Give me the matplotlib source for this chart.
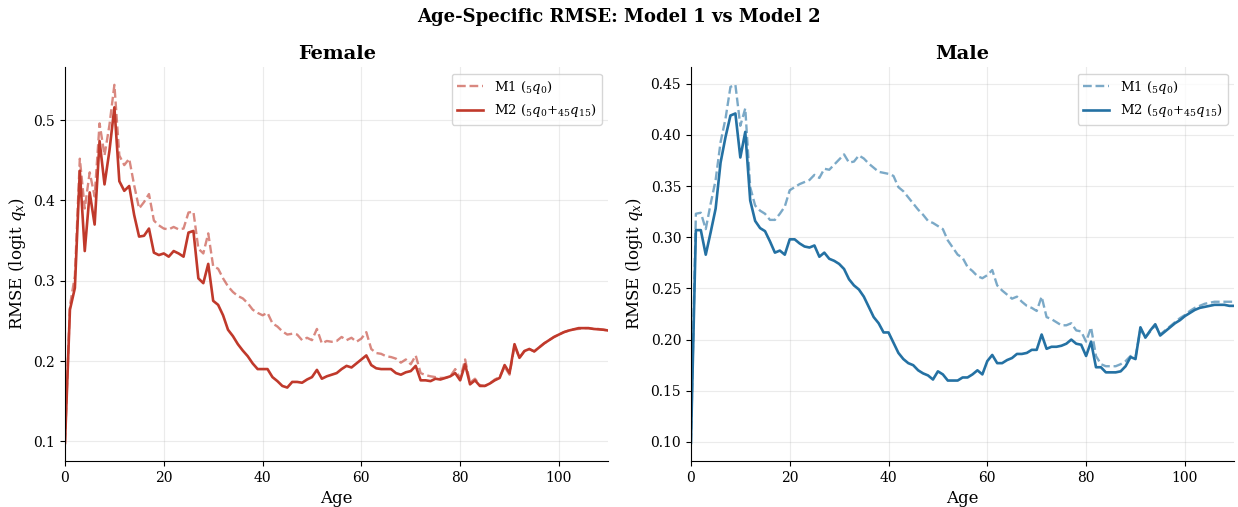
import matplotlib.pyplot as plt
import numpy as np

plt.rcParams['font.family'] = ['DejaVu Serif']
plt.rcParams['mathtext.fontset'] = 'dejavuserif'

ages = np.arange(0, 111)

female_m1 = [0.100, 0.269, 0.306, 0.452, 0.390, 0.435, 0.405, 0.496, 0.456, 0.494,
             0.544, 0.456, 0.444, 0.452, 0.419, 0.390, 0.398, 0.408, 0.375, 0.369,
             0.365, 0.364, 0.367, 0.364, 0.365, 0.385, 0.386, 0.340, 0.334, 0.359,
             0.318, 0.315, 0.303, 0.293, 0.286, 0.281, 0.278, 0.272, 0.264, 0.260,
             0.257, 0.260, 0.247, 0.243, 0.237, 0.233, 0.234, 0.233, 0.226, 0.229,
             0.226, 0.240, 0.222, 0.225, 0.224, 0.225, 0.230, 0.226, 0.229, 0.224,
             0.228, 0.236, 0.215, 0.210, 0.209, 0.206, 0.205, 0.203, 0.198, 0.202,
             0.196, 0.207, 0.185, 0.1825, 0.181, 0.180, 0.179, 0.179, 0.181, 0.190,
             0.178, 0.202, 0.173, 0.178, 0.170, 0.169, 0.172, 0.177, 0.180, 0.193,
             0.183, 0.219, 0.204, 0.212, 0.215, 0.212, 0.217, 0.222, 0.226, 0.230,
             0.233, 0.236, 0.238, 0.2395, 0.240, 0.241, 0.241, 0.240, 0.240, 0.239,
             0.238]
female_m2 = [0.098, 0.264, 0.291, 0.437, 0.337, 0.410, 0.370, 0.474, 0.420, 0.462,
             0.516, 0.424, 0.412, 0.418, 0.382, 0.355, 0.356, 0.365, 0.335, 0.332,
             0.334, 0.330, 0.337, 0.334, 0.330, 0.360, 0.362, 0.303, 0.297, 0.321,
             0.275, 0.270, 0.257, 0.239, 0.231, 0.221, 0.213, 0.206, 0.197, 0.190,
             0.190, 0.190, 0.180, 0.175, 0.169, 0.167, 0.174, 0.174, 0.173, 0.177,
             0.180, 0.189, 0.178, 0.181, 0.183, 0.185, 0.190, 0.194, 0.192, 0.197,
             0.202, 0.207, 0.195, 0.191, 0.190, 0.190, 0.190, 0.185, 0.183, 0.186,
             0.1875, 0.194, 0.176, 0.176, 0.175, 0.178, 0.177, 0.179, 0.181, 0.185,
             0.176, 0.196, 0.171, 0.176, 0.169, 0.169, 0.172, 0.176, 0.179, 0.195,
             0.185, 0.221, 0.204, 0.2125, 0.215, 0.212, 0.217, 0.222, 0.226, 0.230,
             0.233, 0.236, 0.238, 0.2395, 0.241, 0.241, 0.241, 0.240, 0.2395, 0.239,
             0.238]

male_m1 = [0.100, 0.323, 0.324, 0.308, 0.333, 0.356, 0.393, 0.416, 0.447, 0.449,
           0.409, 0.426, 0.349, 0.331, 0.326, 0.323, 0.317, 0.317, 0.323, 0.330,
           0.346, 0.349, 0.352, 0.354, 0.356, 0.361, 0.358, 0.367, 0.366, 0.371,
           0.376, 0.381, 0.373, 0.374, 0.380, 0.377, 0.372, 0.368, 0.364, 0.363,
           0.362, 0.360, 0.349, 0.345, 0.339, 0.333, 0.327, 0.322, 0.316, 0.314,
           0.311, 0.308, 0.297, 0.290, 0.283, 0.280, 0.271, 0.267, 0.262, 0.260,
           0.263, 0.268, 0.253, 0.248, 0.244, 0.240, 0.242, 0.237, 0.233, 0.231,
           0.228, 0.242, 0.222, 0.220, 0.217, 0.214, 0.214, 0.216, 0.209, 0.208,
           0.198, 0.212, 0.184, 0.176, 0.174, 0.174, 0.174, 0.176, 0.179, 0.184,
           0.183, 0.210, 0.202, 0.208, 0.214, 0.205, 0.209, 0.213, 0.217, 0.221,
           0.224, 0.228, 0.231, 0.233, 0.235, 0.236, 0.237, 0.237, 0.237, 0.237,
           0.237]
male_m2 = [0.099, 0.307, 0.307, 0.283, 0.305, 0.328, 0.373, 0.398, 0.419, 0.421,
           0.378, 0.403, 0.336, 0.316, 0.309, 0.306, 0.296, 0.285, 0.287, 0.283,
           0.298, 0.298, 0.294, 0.291, 0.290, 0.292, 0.281, 0.285, 0.279, 0.277,
           0.274, 0.269, 0.259, 0.253, 0.249, 0.242, 0.232, 0.222, 0.216, 0.207,
           0.207, 0.197, 0.187, 0.181, 0.177, 0.175, 0.170, 0.167, 0.165, 0.161,
           0.169, 0.166, 0.160, 0.160, 0.160, 0.163, 0.163, 0.166, 0.170, 0.166,
           0.179, 0.185, 0.177, 0.177, 0.180, 0.182, 0.186, 0.186, 0.187, 0.190,
           0.190, 0.205, 0.191, 0.193, 0.193, 0.194, 0.196, 0.200, 0.196, 0.195,
           0.184, 0.198, 0.173, 0.173, 0.168, 0.168, 0.168, 0.169, 0.174, 0.183,
           0.181, 0.212, 0.202, 0.209, 0.215, 0.204, 0.208, 0.212, 0.216, 0.219,
           0.223, 0.226, 0.229, 0.231, 0.232, 0.233, 0.234, 0.234, 0.234, 0.233,
           0.233]

panels = [
    ('Female', female_m1, female_m2, '#c0392b'),
    ('Male', male_m1, male_m2, '#2471a3'),
]

fig, axes = plt.subplots(1, 2, figsize=(12.38, 5.07), dpi=100)
fig.subplots_adjust(left=0.0525, right=0.997, top=0.868, bottom=0.091, wspace=0.152)

for ax, (name, m1, m2, color) in zip(axes, panels):
    ax.plot(ages, m1, color=color, alpha=0.6, linestyle='--', linewidth=1.7,
            label=r'M1 (${}_5q_0$)')
    ax.plot(ages, m2, color=color, linewidth=1.9,
            label=r'M2 (${}_5q_0$+${}_{45}q_{15}$)')
    ax.set_xlim(0, 110)
    ax.set_title(name, fontsize=14, fontweight='bold')
    ax.set_xlabel('Age', fontsize=12)
    ax.set_ylabel(r'RMSE (logit $q_x$)', fontsize=12)
    ax.grid(True, alpha=0.25)
    ax.spines['top'].set_visible(False)
    ax.spines['right'].set_visible(False)
    ax.legend(loc='upper right', fontsize=9.5)

fig.suptitle('Age-Specific RMSE: Model 1 vs Model 2', fontsize=13, fontweight='bold', y=0.985)

plt.savefig('out.png', dpi=100)
